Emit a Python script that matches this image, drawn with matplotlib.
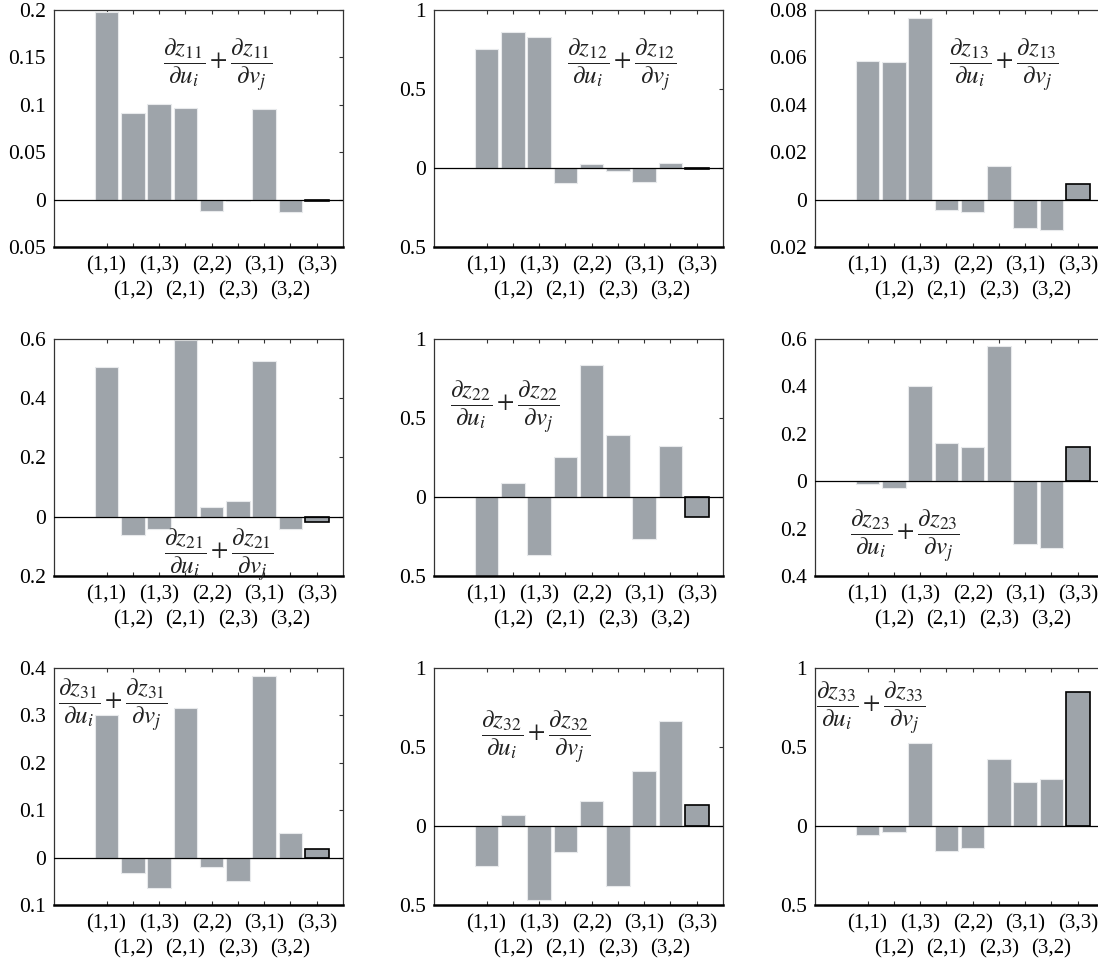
import matplotlib
matplotlib.use("Agg")
import matplotlib.pyplot as plt
from matplotlib import font_manager
from matplotlib.ticker import FuncFormatter, FixedLocator, FixedFormatter
import numpy as np

installed = {f.name for f in font_manager.fontManager.ttflist}
serif = [f for f in ["Liberation Serif", "Times New Roman", "DejaVu Serif"] if f in installed]
plt.rcParams["font.family"] = serif
plt.rcParams["mathtext.fontset"] = "stix"

pairs = ["(1,1)", "(1,2)", "(1,3)", "(2,1)", "(2,2)", "(2,3)", "(3,1)", "(3,2)", "(3,3)"]

z11 = [0.198, 0.091, 0.101, 0.0965, -0.012, -0.0015, 0.096, -0.0127, -0.001]
z12 = [0.752, 0.859, 0.830, -0.093, 0.025, -0.017, -0.086, 0.034, -0.006]
z13 = [0.0586, 0.0582, 0.0766, -0.0045, -0.0051, 0.0142, -0.0121, -0.0127, 0.0065]
z21 = [0.507, -0.061, -0.041, 0.595, 0.0315, 0.054, 0.527, -0.041, -0.017]
z22 = [-0.50, 0.091, -0.367, 0.255, 0.838, 0.390, -0.268, 0.323, -0.129]
z23 = [-0.011, -0.030, 0.401, 0.162, 0.145, 0.570, -0.266, -0.283, 0.146]
z31 = [0.301, -0.032, -0.064, 0.315, -0.019, -0.050, 0.383, 0.051, 0.019]
z32 = [-0.255, 0.068, -0.466, -0.162, 0.158, -0.378, 0.350, 0.662, 0.133]
z33 = [-0.055, -0.036, 0.527, -0.160, -0.141, 0.424, 0.278, 0.295, 0.846]

series = [z11, z12, z13, z21, z22, z23, z31, z32, z33]
names = ["11", "12", "13", "21", "22", "23", "31", "32", "33"]
y_limits = [(-0.05, 0.2), (-0.5, 1), (-0.02, 0.08),
            (-0.2, 0.6), (-0.5, 1), (-0.4, 0.6),
            (-0.1, 0.4), (-0.5, 1), (-0.5, 1)]
y_steps = [0.05, 0.5, 0.02, 0.2, 0.5, 0.2, 0.1, 0.5, 0.5]
label_pos = [(0.567, 0.768), (0.651, 0.768), (0.654, 0.768),
             (0.571, 0.089), (0.244, 0.713), (0.310, 0.171),
             (0.205, 0.844), (0.351, 0.709), (0.192, 0.833)]

W, H = 1098, 963
fig = plt.figure(figsize=(W / 100, H / 100), dpi=100)

col_left = [54, 434, 815]
row_top = [10, 339, 668]
ax_w, ax_h = 289, 237

bar_color = "#9ea4aa"
x = np.arange(1, 10)
odd_x = x[0::2]
even_x = x[1::2]

for k in range(9):
    r, c = divmod(k, 3)
    ax = fig.add_axes([col_left[c] / W, 1 - (row_top[r] + ax_h) / H, ax_w / W, ax_h / H])
    vals = series[k]
    bars = ax.bar(x, vals, width=0.9, color=bar_color, edgecolor="#e8eaec", linewidth=0.8, zorder=2)
    bars[-1].set_edgecolor("black")
    bars[-1].set_linewidth(1.2)
    bars[-1].set_zorder(3)
    ax.axhline(0, color="black", lw=0.9, zorder=4)

    lo, hi = y_limits[k]
    ax.set_xlim(-1, 10)
    ax.set_ylim(lo, hi)
    ax.set_yticks(np.round(np.arange(lo, hi + y_steps[k] / 2, y_steps[k]), 4))
    ax.yaxis.set_major_formatter(FuncFormatter(lambda v, p: f"{abs(v):g}"))

    # odd pairs on the first label row, even pairs on the second
    ax.xaxis.set_major_locator(FixedLocator(odd_x))
    ax.xaxis.set_major_formatter(FixedFormatter(pairs[0::2]))
    ax.xaxis.set_minor_locator(FixedLocator(even_x))
    ax.xaxis.set_minor_formatter(FixedFormatter(pairs[1::2]))

    for which, pad in (("major", 7), ("minor", 25)):
        ax.tick_params(axis="x", which=which, direction="in", top=True, bottom=True,
                       length=3, width=0.8, labelsize=15, pad=pad, color="#333333")
    ax.tick_params(axis="y", direction="in", left=False, right=True, labelleft=True,
                   length=3, width=0.8, labelsize=15.5, pad=6, color="#333333")

    for side in ("top", "right", "left"):
        ax.spines[side].set_linewidth(0.9)
        ax.spines[side].set_color("#333333")
    ax.spines["bottom"].set_linewidth(1.8)
    ax.spines["bottom"].set_color("black")

    n = names[k]
    txt = (r"$\dfrac{\partial z_{" + n + r"}}{\partial u_i}+"
           r"\dfrac{\partial z_{" + n + r"}}{\partial v_j}$")
    lx, ly = label_pos[k]
    ax.text(lx, ly, txt, transform=ax.transAxes, ha="center", va="center",
            fontsize=18, color="#222222", zorder=5)

fig.savefig("out.png", dpi=100)
